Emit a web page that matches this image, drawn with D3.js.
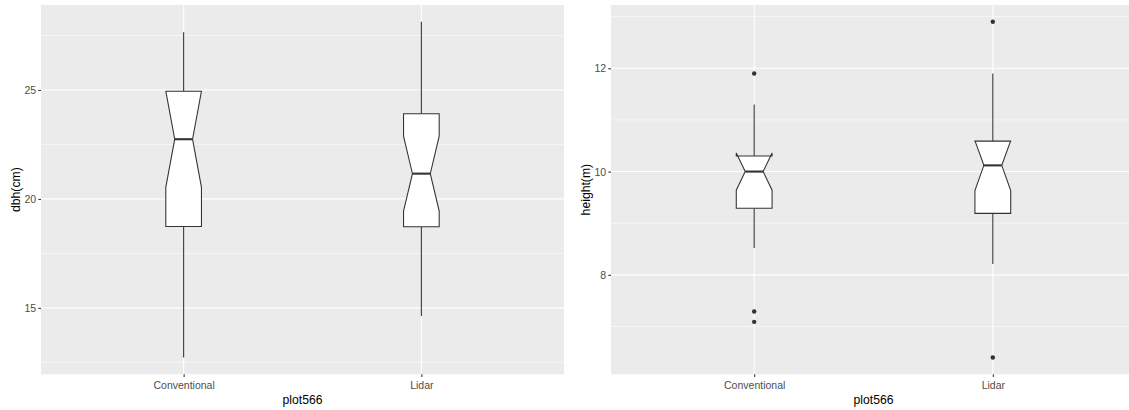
<!DOCTYPE html>
<html>
<head>
<meta charset="utf-8">
<script src="https://cdn.jsdelivr.net/npm/d3@7"></script>
<style>
  html, body { margin: 0; padding: 0; background: #ffffff; }
  svg { display: block; }
  text { font-family: "Liberation Sans", Arial, sans-serif; }
</style>
</head>
<body>
<svg id="chart" width="1129" height="410"></svg>
<script>
// Groups on the x axis (both panels)
const categories = ["Conventional", "Lidar"];
const xTitle = "plot566";

// Diameter at breast height (cm): box-plot summaries per group
const dbhWhiskerLow  = [12.72, 14.63];
const dbhQ1          = [18.73, 18.72];
const dbhNotchLow    = [20.53, 19.44];
const dbhMedian      = [22.74, 21.16];
const dbhNotchHigh   = [24.95, 22.88];
const dbhQ3          = [24.94, 23.91];
const dbhWhiskerHigh = [27.65, 28.13];
const dbhOutliers    = [[], []];
const dbhTicks       = [15, 20, 25];
const dbhMinorTicks  = [12.5, 17.5, 22.5, 27.5];

// Tree height (m): box-plot summaries per group
const htWhiskerLow  = [8.52, 8.21];
const htQ1          = [9.29, 9.19];
const htNotchLow    = [9.64, 9.63];
const htMedian      = [10.00, 10.12];
const htNotchHigh   = [10.36, 10.60];
const htQ3          = [10.30, 10.59];
const htWhiskerHigh = [11.30, 11.90];
const htOutliers    = [[11.90, 7.29, 7.09], [12.90, 6.40]];
const htTicks       = [8, 10, 12];
const htMinorTicks  = [7, 9, 11, 13];

const svg = d3.select("#chart");

function drawPanel(opt) {
  const { left, right, top, bottom, yTitle, yTitleX, stats, ticks, minorTicks } = opt;
  const g = svg.append("g");

  const x = d3.scalePoint().domain(categories).range([left, right]).padding(0.6);

  // y domain: data range (whiskers and outliers) expanded by 5% each side
  const allVals = categories.flatMap((c, i) =>
    [stats.wlo[i], stats.whi[i], ...stats.out[i]]);
  const lo = d3.min(allVals), hi = d3.max(allVals);
  const pad = (hi - lo) * 0.05;
  const y = d3.scaleLinear().domain([lo - pad, hi + pad]).range([bottom, top]);

  // panel background
  g.append("rect")
    .attr("x", left).attr("y", top)
    .attr("width", right - left).attr("height", bottom - top)
    .attr("fill", "#EBEBEB");

  // minor grid
  g.selectAll(".minor").data(minorTicks.filter(v => v >= y.domain()[0] && v <= y.domain()[1]))
    .join("line")
    .attr("x1", left).attr("x2", right)
    .attr("y1", d => y(d)).attr("y2", d => y(d))
    .attr("stroke", "#ffffff").attr("stroke-width", 0.55);

  // major grid
  g.selectAll(".major").data(ticks)
    .join("line")
    .attr("x1", left).attr("x2", right)
    .attr("y1", d => y(d)).attr("y2", d => y(d))
    .attr("stroke", "#ffffff").attr("stroke-width", 1.07);
  g.selectAll(".vmajor").data(categories)
    .join("line")
    .attr("x1", d => x(d)).attr("x2", d => x(d))
    .attr("y1", top).attr("y2", bottom)
    .attr("stroke", "#ffffff").attr("stroke-width", 1.07);

  const boxW = x.step() * 0.15;
  const line = "#333333";

  categories.forEach((c, i) => {
    const cx = x(c);
    const x0 = cx - boxW / 2, x1 = cx + boxW / 2;
    const nx0 = cx - boxW / 4, nx1 = cx + boxW / 4;

    // whiskers
    g.append("line")
      .attr("x1", cx).attr("x2", cx)
      .attr("y1", y(stats.q3[i])).attr("y2", y(stats.whi[i]))
      .attr("stroke", line).attr("stroke-width", 1.07);
    g.append("line")
      .attr("x1", cx).attr("x2", cx)
      .attr("y1", y(stats.q1[i])).attr("y2", y(stats.wlo[i]))
      .attr("stroke", line).attr("stroke-width", 1.07);

    // notched box
    const pts = [
      [x0, y(stats.q3[i])],
      [x0, y(stats.nhi[i])],
      [nx0, y(stats.med[i])],
      [x0, y(stats.nlo[i])],
      [x0, y(stats.q1[i])],
      [x1, y(stats.q1[i])],
      [x1, y(stats.nlo[i])],
      [nx1, y(stats.med[i])],
      [x1, y(stats.nhi[i])],
      [x1, y(stats.q3[i])]
    ];
    g.append("path")
      .attr("d", d3.line()(pts) + "Z")
      .attr("fill", "#ffffff")
      .attr("stroke", line).attr("stroke-width", 1.07)
      .attr("stroke-linejoin", "miter");

    // median
    g.append("line")
      .attr("x1", nx0).attr("x2", nx1)
      .attr("y1", y(stats.med[i])).attr("y2", y(stats.med[i]))
      .attr("stroke", line).attr("stroke-width", 2.1);

    // outliers
    g.selectAll(null).data(stats.out[i])
      .join("circle")
      .attr("cx", cx).attr("cy", d => y(d))
      .attr("r", 2.2)
      .attr("fill", line);
  });

  // y axis
  const yAxis = g.append("g")
    .attr("transform", `translate(${left},0)`)
    .call(d3.axisLeft(y).tickValues(ticks).tickSize(2.7).tickPadding(2.2).tickFormat(d3.format("d")));
  yAxis.select(".domain").remove();
  yAxis.selectAll(".tick line").attr("stroke", line).attr("stroke-width", 1.07);
  yAxis.selectAll(".tick text")
    .attr("fill", "#4D4D4D").attr("font-size", "10.5px")
    .attr("dy", "0.35em");

  // x axis
  const xAxis = g.append("g")
    .attr("transform", `translate(0,${bottom})`)
    .call(d3.axisBottom(x).tickSize(2.7).tickPadding(0));
  xAxis.select(".domain").remove();
  xAxis.selectAll(".tick line").attr("stroke", line).attr("stroke-width", 1.07);
  xAxis.selectAll(".tick text")
    .attr("fill", "#4D4D4D").attr("font-size", "10.5px")
    .attr("y", 15).attr("dy", 0);

  // axis titles
  g.append("text")
    .attr("x", (left + right) / 2).attr("y", 403.5)
    .attr("text-anchor", "middle")
    .attr("font-size", "12.2px").attr("fill", "#000000")
    .text(xTitle);
  g.append("text")
    .attr("transform", `translate(${yTitleX},${(top + bottom) / 2}) rotate(-90)`)
    .attr("text-anchor", "middle")
    .attr("font-size", "12.2px").attr("fill", "#000000")
    .text(yTitle);
}

drawPanel({
  left: 41, right: 564, top: 5, bottom: 374.3,
  yTitle: "dbh(cm)", yTitleX: 19.5,
  stats: { wlo: dbhWhiskerLow, q1: dbhQ1, nlo: dbhNotchLow, med: dbhMedian,
           nhi: dbhNotchHigh, q3: dbhQ3, whi: dbhWhiskerHigh, out: dbhOutliers },
  ticks: dbhTicks, minorTicks: dbhMinorTicks
});

drawPanel({
  left: 611, right: 1136, top: 5, bottom: 374.3,
  yTitle: "height(m)", yTitleX: 589.5,
  stats: { wlo: htWhiskerLow, q1: htQ1, nlo: htNotchLow, med: htMedian,
           nhi: htNotchHigh, q3: htQ3, whi: htWhiskerHigh, out: htOutliers },
  ticks: htTicks, minorTicks: htMinorTicks
});
</script>
</body>
</html>
